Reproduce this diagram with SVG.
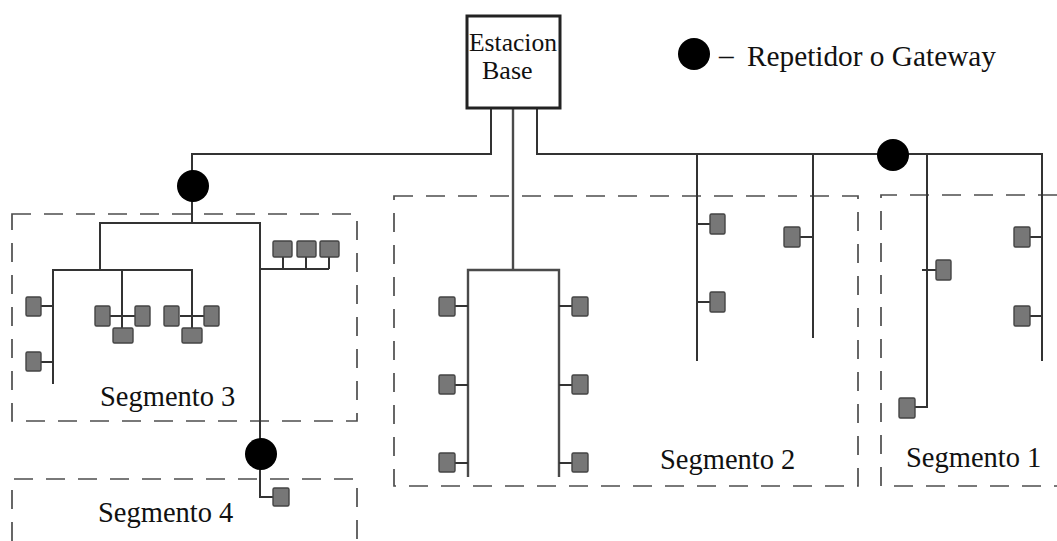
<svg xmlns="http://www.w3.org/2000/svg" width="1057" height="541" viewBox="0 0 1057 541">
<style>
.bus{fill:none;stroke:#333;stroke-width:2;stroke-linejoin:miter;stroke-linecap:butt}
.bus2{fill:none;stroke:#4a4a4a;stroke-width:2.4}
.dev{fill:#777;stroke:#444;stroke-width:1.4}
.seg{fill:none;stroke:#4d4d4d;stroke-width:1.7;stroke-dasharray:19 13}
.gw{fill:#000}
.lbl{font-family:"Liberation Serif","Times New Roman",serif;font-size:28.5px;fill:#111}
.bs{font-family:"Liberation Serif","Times New Roman",serif;font-size:26px;fill:#111}
</style>
<rect width="1057" height="541" fill="#fff"/>
<g id="segments">
<rect id="seg3" class="seg" x="12" y="214" width="345" height="207"/>
<path id="seg4" class="seg" d="M12,541 V479 H357 V541"/>
<rect id="seg2" class="seg" x="394" y="196" width="464" height="290"/>
<path id="seg1" class="seg" d="M1057,195 H881 V486 H1057"/>
</g>
<g id="connectors">
<path class="bus" d="M491,108 V154 H192 V223"/>
<path class="bus" d="M100,270 V223 H260 V497 H273"/>
<path class="bus" d="M53,384 V270 H192 V328"/>
<path class="bus" d="M122,270 V328"/>
<path class="bus" d="M41,306 H53 M41,362 H53 M110,316 H135 M180,316 H204"/>
<path class="bus" d="M260,269 H329 M283,257 V269 M306,257 V269 M329,257 V269"/>
<path class="bus2" d="M513,108 V270"/>
<path class="bus2" d="M468,477 V270 H559 V477"/>
<path class="bus" d="M455,306 H468 M455,385 H468 M455,463 H468 M559,306 H572 M559,385 H572 M559,463 H572"/>
<path class="bus" d="M537,108 V154 H1042 V361"/>
<path class="bus" d="M697,154 V361 M813,154 V338 M927,154 V407 H915"/>
<path class="bus" d="M697,224 H710 M697,302 H710 M800,237 H813 M922,270 H936 M1030,237 H1042 M1030,316 H1042"/>
</g>
<g id="base-station">
<rect x="467" y="16" width="93" height="92" fill="#fff" stroke="#222" stroke-width="3"/>
<text class="bs" x="469" y="51" textLength="88" lengthAdjust="spacingAndGlyphs">Estacion</text>
<text class="bs" x="482" y="79">Base</text>
</g>
<g id="gateways">
<circle id="gw-left" class="gw" cx="193" cy="186" r="16"/>
<circle id="gw-seg4" class="gw" cx="261" cy="454" r="16"/>
<circle id="gw-right" class="gw" cx="893" cy="155" r="16"/>
</g>
<g id="legend">
<circle class="gw" cx="694" cy="54" r="16"/>
<text class="lbl" style="font-size:29.3px"><tspan x="719" y="65">–</tspan><tspan x="747" y="66">Repetidor o Gateway</tspan></text>
</g>
<g id="devices-seg3">
<rect class="dev" x="26" y="297" width="15" height="19" rx="1.5"/>
<rect class="dev" x="26" y="352" width="15" height="19" rx="1.5"/>
<rect class="dev" x="95" y="306" width="15" height="20" rx="1.5"/>
<rect class="dev" x="135" y="306" width="15" height="20" rx="1.5"/>
<rect class="dev" x="113" y="328" width="20" height="15" rx="1.5"/>
<rect class="dev" x="164" y="306" width="15" height="20" rx="1.5"/>
<rect class="dev" x="204" y="306" width="15" height="20" rx="1.5"/>
<rect class="dev" x="182" y="328" width="20" height="15" rx="1.5"/>
<rect class="dev" x="273" y="241" width="19" height="16" rx="1.5"/>
<rect class="dev" x="297" y="241" width="19" height="16" rx="1.5"/>
<rect class="dev" x="320" y="241" width="19" height="16" rx="1.5"/>
<text class="lbl" x="100" y="406">Segmento 3</text>
</g>
<g id="devices-seg4">
<rect class="dev" x="273" y="488" width="16" height="18" rx="1.5"/>
<text class="lbl" x="98" y="522">Segmento 4</text>
</g>
<g id="devices-seg2">
<rect class="dev" x="439" y="297" width="16" height="19" rx="1.5"/>
<rect class="dev" x="439" y="375" width="16" height="19" rx="1.5"/>
<rect class="dev" x="439" y="453" width="16" height="19" rx="1.5"/>
<rect class="dev" x="572" y="297" width="16" height="19" rx="1.5"/>
<rect class="dev" x="572" y="375" width="16" height="19" rx="1.5"/>
<rect class="dev" x="572" y="453" width="16" height="19" rx="1.5"/>
<rect class="dev" x="710" y="214" width="15" height="20" rx="1.5"/>
<rect class="dev" x="710" y="292" width="15" height="20" rx="1.5"/>
<rect class="dev" x="784" y="227" width="16" height="20" rx="1.5"/>
<text class="lbl" x="660" y="469">Segmento 2</text>
</g>
<g id="devices-seg1">
<rect class="dev" x="899" y="398" width="16" height="20" rx="1.5"/>
<rect class="dev" x="936" y="260" width="15" height="20" rx="1.5"/>
<rect class="dev" x="1014" y="227" width="16" height="20" rx="1.5"/>
<rect class="dev" x="1014" y="306" width="16" height="20" rx="1.5"/>
<text class="lbl" x="906" y="467">Segmento 1</text>
</g>
</svg>
